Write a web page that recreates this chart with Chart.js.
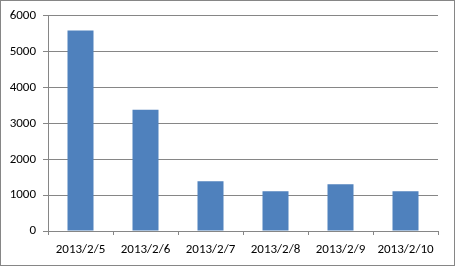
<!DOCTYPE html>
<html>
<head>
  <meta charset="UTF-8" />
  <script src="https://cdn.jsdelivr.net/npm/chart.js"></script>
  <style>
    html, body { margin: 0; padding: 0; background: #fff; }
    .box { width: 453px; height: 264px; border: 1px solid #868686; }
  </style>
</head>
<body>
  <div class="box">
    <canvas id="grafico" width="453" height="264"></canvas>
  </div>

  <script>
    // dados
    const datas = ['2013/2/5', '2013/2/6', '2013/2/7', '2013/2/8', '2013/2/9', '2013/2/10'];
    const valores = [5590, 3380, 1390, 1110, 1300, 1110];
    const yMin = 0;
    const yMax = 6000;
    const yPasso = 1000;

    const cinza = '#868686';
    const fonte = { family: "Calibri, Carlito, 'Open Sans', sans-serif", size: 13 };

    new Chart(document.getElementById('grafico').getContext('2d'), {
      type: 'bar',
      data: {
        labels: datas,
        datasets: [{
          data: valores,
          backgroundColor: '#4F81BD',
          borderWidth: 0,
          barPercentage: 0.4,
          categoryPercentage: 1
        }]
      },
      options: {
        responsive: false,
        animation: false,
        layout: { padding: { top: 13, right: 16, left: 0, bottom: 0 } },
        plugins: { legend: { display: false }, tooltip: { enabled: false } },
        scales: {
          x: {
            grid: { drawOnChartArea: false, color: cinza, tickLength: 4 },
            border: { color: cinza },
            ticks: { color: '#000', font: fonte, padding: 7, maxRotation: 0 },
            afterFit: s => { s.height = 34; }
          },
          y: {
            min: yMin,
            max: yMax,
            grid: { color: cinza, tickLength: 5 },
            border: { color: cinza },
            ticks: { stepSize: yPasso, color: '#000', font: fonte, padding: 7, callback: v => String(v) },
            afterFit: s => { s.width = 47; }
          }
        }
      }
    });
  </script>
</body>
</html>
